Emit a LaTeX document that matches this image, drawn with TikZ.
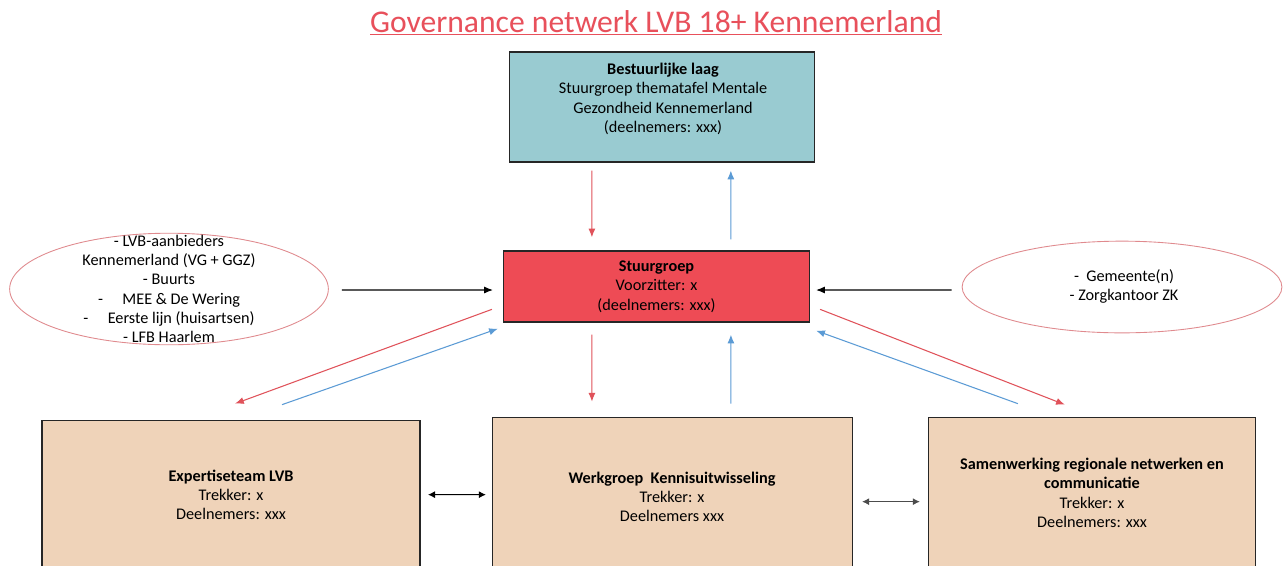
\documentclass[tikz,border=0pt]{standalone}
\usepackage{fontspec}
\setmainfont{Carlito}
\usetikzlibrary{arrows.meta,shapes.geometric}
\definecolor{titlered}{HTML}{E8505B}
\definecolor{bestfill}{HTML}{99CBD1}
\definecolor{stuurfill}{HTML}{EE4B55}
\definecolor{werkfill}{HTML}{EFD3B9}
\definecolor{boxline}{HTML}{262626}
\definecolor{arrred}{HTML}{E0525A}
\definecolor{arrblue}{HTML}{5B9BD5}
\definecolor{ellline}{HTML}{E08A8E}
\tikzset{
  box/.style={draw=boxline, line width=0.85pt, inner sep=0pt},
  txt/.style={align=center, font=\fontsize{9.25}{11}\selectfont, inner sep=0pt},
  oval/.style={ellipse, draw=ellline, line width=0.5pt, inner sep=0pt},
  redarr/.style={draw=arrred, line width=0.6pt, -{Latex[length=5pt,width=4pt]}},
  bluearr/.style={draw=arrblue, line width=0.6pt, -{Latex[length=5pt,width=4pt]}},
  blackarr/.style={draw=black, line width=0.6pt, -{Latex[length=5pt,width=4pt]}},
  dblarr/.style={draw=black, line width=0.6pt, {Latex[length=4pt,width=4pt]}-{Latex[length=4pt,width=4pt]}},
}
\begin{document}
\begin{tikzpicture}[x=0.02cm, y=-0.02cm]
\clip (0,0) rectangle (1287,565);
\fill[white] (0,0) rectangle (1287,565);
% title
\node[text=titlered, font=\fontsize{18}{20}\selectfont, inner sep=0pt] (title) at (656,23) {\underline{Governance netwerk LVB 18+ Kennemerland}};
% boxes
\node[box, fill=bestfill, minimum width=173.5pt, minimum height=62.4pt] (best) at (662,107) {};
\node[txt] (besttxt) at (663,99) {\textbf{Bestuurlijke laag}\\Stuurgroep thematafel Mentale\\Gezondheid Kennemerland\\(deelnemers: xxx)};
\node[box, fill=stuurfill, minimum width=174pt, minimum height=40.3pt, txt] (stuur) at (656.5,286.5) {\textbf{Stuurgroep}\\Voorzitter: x\\(deelnemers: xxx)};
\node[box, fill=werkfill, minimum width=215.4pt, minimum height=102pt] (expert) at (231,510) {};
\node[box, fill=werkfill, minimum width=204.7pt, minimum height=103.7pt] (werk) at (672.5,508.5) {};
\node[box, fill=werkfill, minimum width=186pt, minimum height=103.7pt] (samen) at (1092,508.5) {};
\node[txt] (experttxt) at (231,495) {\textbf{Expertiseteam LVB}\\Trekker: x\\Deelnemers: xxx};
\node[txt] (werktxt) at (672,497) {\textbf{Werkgroep\ \ Kennisuitwisseling}\\Trekker: x\\Deelnemers xxx};
\node[txt] (samentxt) at (1092,493) {\textbf{Samenwerking regionale netwerken en}\\\textbf{communicatie}\\Trekker: x\\Deelnemers: xxx};
% ellipses
\node[oval, minimum width=181.4pt, minimum height=63.5pt] (lell) at (169,289) {};
\node[txt] (lelltxt) at (169,289) {- LVB-aanbieders\\Kennemerland (VG + GGZ)\\- Buurts\\-\hspace{1.2em}MEE \& De Wering\\-\hspace{1.2em}Eerste lijn (huisartsen)\\- LFB Haarlem};
\node[oval, minimum width=182pt, minimum height=52.2pt] (rell) at (1122,287) {};
\node[txt] (relltxt) at (1124,286.5) {-\ \ Gemeente(n)\\- Zorgkantoor ZK};
% arrows top
\draw[redarr] ([shift={(83,8)}]best.south west) -- ([shift={(89,-13)}]stuur.north west);
\draw[bluearr] ([shift={(228,-11)}]stuur.north west) -- ([shift={(222,8)}]best.south west);
% side arrows
\draw[blackarr] ([shift={(13,1)}]lell.east) -- ([shift={(-10,3.5)}]stuur.west);
\draw[blackarr] ([shift={(-10,3)}]rell.west) -- ([shift={(6,3.5)}]stuur.east);
% lower arrows
\draw[redarr] ([shift={(-11,59)}]stuur.north west) -- ([shift={(194,-16)}]expert.north west);
\draw[bluearr] ([shift={(241,-15)}]expert.north west) -- ([shift={(-5,6)}]stuur.south west);
\draw[redarr] ([shift={(89,12)}]stuur.south west) -- ([shift={(100,-15)}]werk.north west);
\draw[bluearr] ([shift={(239,-13)}]werk.north west) -- ([shift={(228,12)}]stuur.south west);
\draw[redarr] ([shift={(10,59)}]stuur.north east) -- ([shift={(137,-12)}]samen.north west);
\draw[bluearr] ([shift={(90,-13)}]samen.north west) -- ([shift={(6,8)}]stuur.south east);
% double arrows
\draw[dblarr] ([shift={(7,75)}]expert.north east) -- ([shift={(-6,78)}]werk.north west);
\draw[dblarr, draw=black!70] ([shift={(9,85)}]werk.north east) -- ([shift={(-8,85)}]samen.north west);
\end{tikzpicture}
\end{document}
